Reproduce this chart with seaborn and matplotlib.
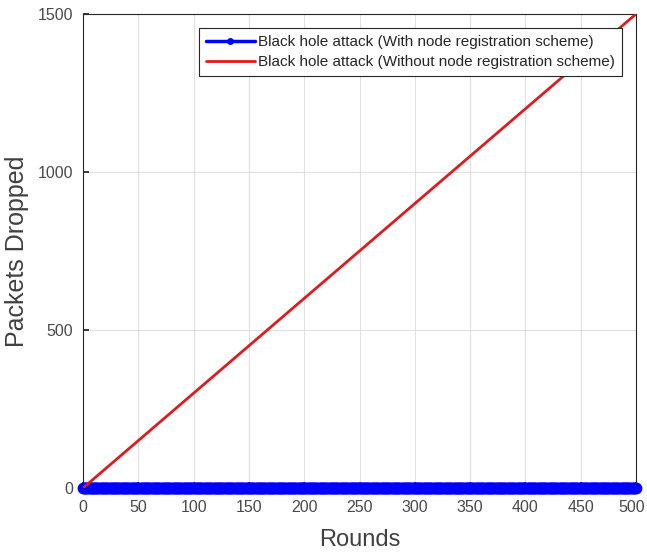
import numpy as np
import pandas as pd
import matplotlib
matplotlib.use("Agg")
import matplotlib.pyplot as plt
import matplotlib.transforms as mtransforms
import seaborn as sns

# Data
rounds_with = np.arange(0, 501)          # every round has a marker
dropped_with = np.zeros(len(rounds_with))  # no packets dropped
rounds_without = [0, 500]
dropped_without = [0, 1500]

xticks = [0, 50, 100, 150, 200, 250, 300, 350, 400, 450, 500]
yticks = [0, 500, 1000, 1500]
label_with = "Black hole attack (With node registration scheme)"
label_without = "Black hole attack (Without node registration scheme)"

sns.set_theme(style="white")
plt.rcParams['font.family'] = ['Liberation Sans', 'DejaVu Sans']

fig = plt.figure(figsize=(6.47, 5.52), dpi=100)
ax = fig.add_axes([83/647, 1 - 488/552, (636-83)/647, (488-14)/552])

df_with = pd.DataFrame({"Rounds": rounds_with, "Dropped": dropped_with})
df_without = pd.DataFrame({"Rounds": rounds_without, "Dropped": dropped_without})

sns.lineplot(data=df_with, x="Rounds", y="Dropped", ax=ax, color="#0000ff",
             linewidth=2.5, marker="o", markersize=8.5, markeredgewidth=0,
             label=label_with, zorder=3, clip_on=False)
sns.lineplot(data=df_without, x="Rounds", y="Dropped", ax=ax, color="#e01b1b",
             linewidth=2, label=label_without, zorder=4)

ax.set_xlim(0, 500)
ax.set_ylim(0, 1500)
ax.set_xticks(xticks)
ax.set_yticks(yticks)
ax.grid(True, color="#e0e0e0", linewidth=0.8)
ax.tick_params(axis="both", direction="in", length=4, labelsize=11.5,
               labelcolor="#4a4a4a", color="#262626", bottom=True, left=True)
ax.tick_params(axis="x", pad=9)
ax.tick_params(axis="y", pad=7)
for s in ax.spines.values():
    s.set_color("#262626")
    s.set_linewidth(0.8)
ax.set_xlabel("Rounds", fontsize=17, color="#404040", labelpad=10)
ax.set_ylabel("Packets Dropped", fontsize=18, color="#404040", labelpad=6)

# keep the last x tick label inside the figure
last = ax.get_xticklabels()[-1]
last.set_transform(last.get_transform() +
                   mtransforms.ScaledTranslation(-4/100, 0, fig.dpi_scale_trans))

leg = ax.legend(loc="upper right", bbox_to_anchor=(0.975, 0.970), fontsize=11,
                frameon=True, fancybox=False, borderpad=0.45, handlelength=3.2,
                handletextpad=0.25, labelspacing=0.4, borderaxespad=0)
leg.get_frame().set_edgecolor("#262626")
leg.get_frame().set_linewidth(0.8)
leg.get_frame().set_alpha(1)
for t in leg.get_texts():
    t.set_color("#262626")
for h in leg.legend_handles:
    try:
        h.set_markersize(5)
    except Exception:
        pass

fig.savefig("out.png", dpi=100)
